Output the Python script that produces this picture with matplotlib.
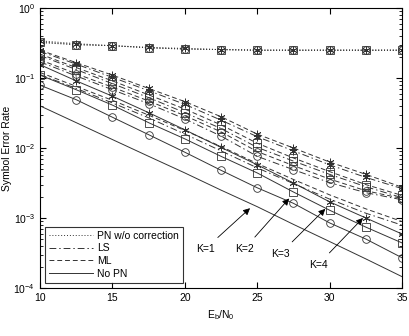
import matplotlib
matplotlib.use("Agg")
import matplotlib.pyplot as plt
import numpy as np

# Eb/N0 grid
snr = [10, 12.5, 15, 17.5, 20, 22.5, 25, 27.5, 30, 32.5, 35]

# PN w/o correction (flat error floor)
pn_k2 = [0.32, 0.30, 0.29, 0.27, 0.26, 0.255, 0.25, 0.25, 0.25, 0.25, 0.25]
pn_k3 = [0.33, 0.30, 0.29, 0.27, 0.26, 0.255, 0.25, 0.25, 0.25, 0.25, 0.25]
pn_k4 = [0.34, 0.31, 0.29, 0.275, 0.265, 0.255, 0.25, 0.25, 0.25, 0.25, 0.25]

# ML (dashed)
ml_k1 = [1.2e-1, 7.6e-2, 4.8e-2, 2.95e-2, 1.78e-2, 1.05e-2, 6.0e-3, 3.55e-3, 2.14e-3, 1.35e-3, 8.9e-4]
ml_k2 = [1.82e-1, 1.15e-1, 7.4e-2, 4.7e-2, 2.9e-2, 1.7e-2, 8.9e-3, 5.6e-3, 3.6e-3, 2.45e-3, 1.9e-3]
ml_k3 = [2.2e-1, 1.41e-1, 9.1e-2, 5.75e-2, 3.6e-2, 2.14e-2, 1.17e-2, 7.2e-3, 4.6e-3, 3.0e-3, 2.1e-3]
ml_k4 = [2.5e-1, 1.66e-1, 1.1e-1, 7.1e-2, 4.6e-2, 2.8e-2, 1.58e-2, 1.0e-2, 6.3e-3, 4.2e-3, 2.75e-3]

# LS (dash-dot)
ls_k1 = [1.12e-1, 7.1e-2, 4.4e-2, 2.7e-2, 1.58e-2, 9.1e-3, 5.2e-3, 3.1e-3, 1.86e-3, 1.17e-3, 7.9e-4]
ls_k2 = [1.7e-1, 1.07e-1, 6.8e-2, 4.3e-2, 2.6e-2, 1.48e-2, 7.6e-3, 4.9e-3, 3.2e-3, 2.3e-3, 1.82e-3]
ls_k3 = [2.1e-1, 1.32e-1, 8.3e-2, 5.25e-2, 3.2e-2, 1.9e-2, 1.02e-2, 6.5e-3, 4.2e-3, 2.8e-3, 1.95e-3]
ls_k4 = [2.4e-1, 1.58e-1, 1.02e-1, 6.6e-2, 4.2e-2, 2.5e-2, 1.45e-2, 9.1e-3, 5.75e-3, 3.8e-3, 2.63e-3]

# No PN (solid)
nopn_k1 = [4.0e-2, 2.3e-2, 1.32e-2, 7.6e-3, 4.4e-3, 2.5e-3, 1.45e-3, 8.1e-4, 4.6e-4, 2.6e-4, 1.45e-4]
nopn_k2 = [7.9e-2, 4.9e-2, 2.75e-2, 1.55e-2, 8.7e-3, 4.8e-3, 2.7e-3, 1.62e-3, 8.5e-4, 5.0e-4, 2.7e-4]
nopn_k3 = [1.1e-1, 6.8e-2, 4.1e-2, 2.3e-2, 1.35e-2, 7.6e-3, 4.4e-3, 2.35e-3, 1.29e-3, 7.4e-4, 4.4e-4]
nopn_k4 = [1.55e-1, 9.1e-2, 5.5e-2, 3.2e-2, 1.82e-2, 1.02e-2, 5.75e-3, 3.16e-3, 1.7e-3, 1.0e-3, 5.9e-4]

labels_k = ["K=1", "K=2", "K=3", "K=4"]
arrow_tip = [(24.5, 1.38e-3), (27.2, 1.9e-3), (29.7, 1.35e-3), (32.3, 1.0e-3)]
text_pos = [(21.4, 3.6e-4), (24.1, 3.6e-4), (26.6, 3.1e-4), (29.2, 2.15e-4)]

plt.rcParams['font.family'] = ['Liberation Sans', 'DejaVu Sans']
plt.rcParams['mathtext.fontset'] = 'custom'
plt.rcParams['mathtext.rm'] = 'Liberation Sans'
plt.rcParams['mathtext.it'] = 'Liberation Sans'

fig = plt.figure(figsize=(4.09, 3.36), dpi=100)
ax = fig.add_axes([0.098, 0.143, 0.885, 0.833])

lc = "#333333"
lw = 0.7
ms = 5.5
dashdot = (0, (7, 3, 1.5, 3))
dashed = (0, (5, 3))

# K=1 curves carry no marker, K=2 circle, K=3 square, K=4 asterisk
markers = [None, "o", "s", (6, 2, 0)]
groups = [
    (None, ml_k1, ls_k1, nopn_k1),
    (pn_k2, ml_k2, ls_k2, nopn_k2),
    (pn_k3, ml_k3, ls_k3, nopn_k3),
    (pn_k4, ml_k4, ls_k4, nopn_k4),
]

for m, (pn, ml, ls, nopn) in zip(markers, groups):
    mk = dict(marker=m, markersize=ms, markerfacecolor="none",
              markeredgecolor=lc, markeredgewidth=0.6) if m else {}
    if pn is not None:
        ax.plot(snr, pn, color=lc, lw=lw, ls=(0, (1, 2)), **mk)
    ax.plot(snr, ml, color=lc, lw=lw, ls=dashed, **mk)
    ax.plot(snr, ls, color=lc, lw=lw, ls=dashdot, **mk)
    ax.plot(snr, nopn, color=lc, lw=lw, ls="-", **mk)

for lab, tip, tp in zip(labels_k, arrow_tip, text_pos):
    ax.annotate(lab, xy=tip, xytext=tp, fontsize=7.5, ha="center", va="center",
                arrowprops=dict(arrowstyle="-|>", color="black", lw=0.6,
                                shrinkA=4, shrinkB=0, mutation_scale=10))

# legend proxies
h1, = ax.plot([], [], color=lc, lw=lw, ls=(0, (1, 2)))
h2, = ax.plot([], [], color=lc, lw=lw, ls=dashdot)
h3, = ax.plot([], [], color=lc, lw=lw, ls=dashed)
h4, = ax.plot([], [], color=lc, lw=lw, ls="-")
leg = ax.legend([h1, h2, h3, h4], ["PN w/o correction", "LS", "ML", "No PN"],
                loc="lower left", fontsize=7.5, frameon=True, fancybox=False,
                edgecolor="black", handlelength=4.2, handletextpad=0.4,
                labelspacing=0.25, borderpad=0.4, borderaxespad=0.5)
leg.get_frame().set_linewidth(0.8)

ax.set_yscale("log")
ax.set_xlim(10, 35)
ax.set_ylim(1e-4, 1)
ax.set_xticks([10, 15, 20, 25, 30, 35])
ax.tick_params(which="both", direction="in", top=True, right=True, labelsize=7.5)
ax.tick_params(which="major", length=4)
ax.tick_params(which="minor", length=2)
for s in ax.spines.values():
    s.set_linewidth(0.8)

ax.set_xlabel("$\\mathregular{E_b/N_0}$", fontsize=7.5)
ax.set_ylabel("Symbol Error Rate", fontsize=7.5, labelpad=1)

fig.savefig("out.png", dpi=100)
